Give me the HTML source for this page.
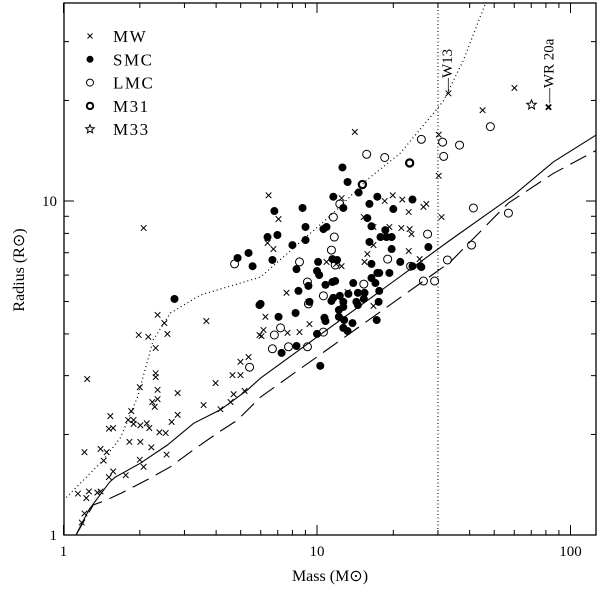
<!DOCTYPE html>
<html><head><meta charset="utf-8"><style>
body{margin:0;background:#fff}
svg text{font-family:"Liberation Serif",serif;fill:#000}
</style></head><body>
<svg id="chart" width="600" height="587" xmlns="http://www.w3.org/2000/svg"></svg>
<script>
const xTicksMajor=[1,10,100];
const yTicksMajor=[1,10];
const mwMass=[2.07,1.24,2.35,2.50,2.57,1.98,2.16,2.31,3.66,2.31,2.31,2.0,2.35,2.24,2.35,2.29,2.82,1.85,1.53,1.80,1.89,1.89,2.01,2.13,2.18,1.57,1.51,2.67,2.82,2.39,2.53,1.82,2.01,2.22,2.55,1.40,1.48,1.21,1.44,2.0,2.07,1.57,1.51,1.76,1.40,1.36,1.26,1.14,1.23,1.21,1.18,3.98,4.64,4.99,4.99,5.37,4.69,5.18,4.56,4.16,3.57,5.93,14.1,6.44,7.05,12.5,15.3,19.9,18.5,21.7,23.0,26.3,27.0,30.2,30.2,31.0,16.7,19.3,21.5,23.2,23.6,6.38,6.73,10.9,11.9,12.5,15.8,15.4,16.7,23.0,25.4,7.58,9.25,13.2,16.7,6.26,6.15,6.04,7.65,8.53,9.34,33.0,60.1,45.0];
const mwRadius=[8.3,2.93,4.56,4.31,4.0,3.97,3.92,3.63,4.37,3.05,2.97,2.77,2.72,2.50,2.55,2.42,2.66,2.35,2.27,2.21,2.21,2.15,2.13,2.16,2.09,2.09,2.08,2.18,2.29,2.03,2.02,1.90,1.90,1.83,1.74,1.81,1.77,1.77,1.67,1.68,1.60,1.55,1.49,1.51,1.35,1.34,1.35,1.33,1.29,1.16,1.09,2.85,3.01,3.01,3.30,3.41,2.64,2.70,2.50,2.38,2.45,3.97,16.1,10.4,8.83,10.2,8.95,10.4,10,10.1,9.27,9.6,9.8,15.8,11.9,8.95,8.36,8.36,8.3,8.24,7.96,7.49,7.18,6.57,6.48,6.38,6.94,6.57,7.38,7.08,6.70,5.31,4.99,5.34,4.85,4.50,4.11,3.94,4.03,4.05,4.28,21.0,21.8,18.7];
const smcMass=[4.86,5.37,5.57,2.74,5.93,12.6,13.2,14.6,11.6,12.7,16.1,17.3,20.0,23.8,6.79,8.77,9.01,9.01,6.98,6.38,8.0,10.9,10.6,6.67,8.30,10.1,10.0,10.2,11.5,12.0,10.8,11.5,11.8,13.9,15.8,16.4,18.6,19.7,18.8,17.8,16.1,19.7,16.4,17.3,17.6,19.3,21.3,23.8,25.6,27.5,16.4,17.0,17.6,8.45,9.25,9.34,5.99,8.23,7.05,11.4,11.6,12.3,13.3,14.5,15.4,12.7,12.2,12.7,12.2,14.3,15.3,14.5,17.5,10.7,10.8,12.8,13.8,12.7,13.2,10.0,17.2,8.30,7.25,10.3,25.8];
const smcRadius=[6.75,6.99,6.38,5.09,4.88,12.6,11.4,10.6,10.3,9.53,9.8,10.3,9.46,10.1,9.33,9.53,8.36,7.64,7.91,7.80,7.38,8.36,8.24,6.66,6.25,6.57,6.17,6.0,6.70,6.66,5.61,5.72,5.76,5.68,8.89,8.4,8.18,7.80,7.80,7.80,7.54,7.18,6.48,6.09,6.09,6.09,6.57,6.38,6.38,7.28,5.88,5.68,5.38,5.38,5.57,4.99,4.92,4.62,4.50,5.02,5.13,5.20,5.27,5.31,5.31,4.99,4.72,4.82,4.50,4.99,5.09,4.88,4.99,4.47,4.37,4.40,4.31,4.17,4.08,4.0,4.40,3.68,3.51,3.21,6.34];
const lmcMass=[4.73,5.42,25.8,31.3,31.6,15.7,18.5,12.3,11.6,11.7,11.4,8.53,11.8,27.3,19.0,23.4,26.3,29.1,32.7,9.17,15.3,10.6,9.25,7.18,6.79,10.6,6.67,7.72,9.17,36.5,48.3,41.4,56.9,40.7];
const lmcRadius=[6.48,3.18,15.3,15.0,13.6,13.8,13.5,9.8,8.95,7.80,7.13,6.57,6.43,7.96,6.70,6.38,5.76,5.76,6.66,5.72,5.64,5.20,4.92,4.17,3.97,4.05,3.61,3.66,3.66,14.7,16.7,9.53,9.2,7.38];
const m31Mass=[23.2,15.1];
const m31Radius=[13.0,11.2];
const m33Mass=[70.2];
const m33Radius=[19.4];
const wrMass=[81.9];
const wrRadius=[19.1];
const w13Mass=30;
const dottedMass=[1,1.44,1.68,1.96,2.26,2.64,3.47,5.99,11.6,15.8,21.3,28.8,31.6,37.8,46.2];
const dottedRadius=[1.27,1.68,1.96,2.59,3.84,4.62,5.23,5.92,9.2,11.6,13.9,18.3,20.0,26.4,39.1];
const solidMass=[1.12,1.26,1.52,1.60,2.01,2.57,3.26,4.16,5.32,5.99,33.6,59.6,85.7,127];
const solidRadius=[1.0,1.19,1.44,1.49,1.64,1.86,2.16,2.37,2.72,2.95,7.64,10.4,13.1,15.8];
const dashedMass=[1.12,1.31,1.47,1.71,2.16,2.64,3.26,4.05,4.86,5.99,33.6,56.9,85.7,127];
const dashedRadius=[1.0,1.23,1.27,1.34,1.47,1.60,1.80,2.02,2.21,2.59,6.57,9.86,12.1,14.2];

const L=64,R=596,T=3,B=535;
const X=m=>63.5+253.5*Math.log10(m);
const Y=r=>535-334*Math.log10(r);
const svg=document.getElementById('chart');
const NS='http://www.w3.org/2000/svg';
function mk(tag,attrs,parent){const e=document.createElementNS(NS,tag);for(const k in attrs)e.setAttribute(k,attrs[k]);(parent||svg).appendChild(e);return e;}

const clip=mk('clipPath',{id:'pc'});mk('rect',{x:L,y:T,width:R-L,height:B-T},clip);
const frame=mk('rect',{x:L,y:T,width:R-L,height:B-T,fill:'none',stroke:'#000','stroke-width':1.3});


// x ticks
const xt=mk('g',{stroke:'#000','stroke-width':1});

for(let d=1;d<=100;d*=10){for(let k=1;k<=9;k++){const v=d*k;const x=X(v);if(x>R)continue;const len=k===1?10:5;
mk('line',{x1:x,y1:B,x2:x,y2:B-len},xt);mk('line',{x1:x,y1:T,x2:x,y2:T+len},xt);}}
xTicksMajor.forEach(v=>{const t=mk('text',{x:X(v),y:556,'text-anchor':'middle','font-size':15});t.textContent=String(v);
});
// y ticks
const yt=mk('g',{stroke:'#000','stroke-width':1});

for(let d=1;d<=10;d*=10){for(let k=1;k<=9;k++){const v=d*k;const y=Y(v);if(y<T)continue;const len=k===1?10:5;
mk('line',{x1:L,y1:y,x2:L+len,y2:y},yt);mk('line',{x1:R,y1:y,x2:R-len,y2:y},yt);}}
yTicksMajor.forEach(v=>{const t=mk('text',{x:57,y:Y(v)+5,'text-anchor':'end','font-size':15});t.textContent=String(v);
});

const xl=mk('text',{x:330,y:581,'text-anchor':'middle','font-size':16});xl.textContent='Mass (M\u2299)';

const yl=mk('text',{x:0,y:0,'text-anchor':'middle','font-size':16,transform:'translate(24,270) rotate(-90)'});yl.textContent='Radius (R\u2299)';


const plot=mk('g',{'clip-path':'url(#pc)'});

function line(ms,rs,attrs,name){const d=ms.map((m,i)=>(i?'L':'M')+X(m).toFixed(1)+','+Y(rs[i]).toFixed(1)).join('');
const p=mk('path',Object.assign({d:d,fill:'none',stroke:'#000'},attrs),plot);
}
line(dottedMass,dottedRadius,{'stroke-width':1.2,'stroke-dasharray':'1,3'},'dotted-model-curve');
line(solidMass,solidRadius,{'stroke-width':1.1},'solid-model-curve');
line(dashedMass,dashedRadius,{'stroke-width':1.1,'stroke-dasharray':'18,8'},'dashed-model-curve');
const vl=mk('line',{x1:X(w13Mass),y1:T,x2:X(w13Mass),y2:B,stroke:'#000','stroke-width':1.1,'stroke-dasharray':'1,2.5'},plot);


function cross(x,y,s,w,g){mk('path',{d:`M${x-s},${y-s}L${x+s},${y+s}M${x-s},${y+s}L${x+s},${y-s}`,stroke:'#000','stroke-width':w},g);}
function star(x,y,r,g){let d='';for(let i=0;i<10;i++){const a=-Math.PI/2+i*Math.PI/5;const rr=i%2?r*0.45:r;d+=(i?'L':'M')+(x+rr*Math.cos(a)).toFixed(1)+','+(y+rr*Math.sin(a)).toFixed(1);}
mk('path',{d:d+'Z',fill:'none',stroke:'#000','stroke-width':1},g);}

const gMW=mk('g',{},plot);
mwMass.forEach((m,i)=>cross(X(m),Y(mwRadius[i]),2.8,1,gMW));
const gSMC=mk('g',{},plot);
smcMass.forEach((m,i)=>mk('circle',{cx:X(m),cy:Y(smcRadius[i]),r:4,fill:'#000'},gSMC));
const gLMC=mk('g',{},plot);
lmcMass.forEach((m,i)=>mk('circle',{cx:X(m),cy:Y(lmcRadius[i]),r:4,fill:'none',stroke:'#000','stroke-width':1},gLMC));
const gM31=mk('g',{},plot);
m31Mass.forEach((m,i)=>mk('circle',{cx:X(m),cy:Y(m31Radius[i]),r:3.6,fill:'none',stroke:'#000','stroke-width':2.2},gM31));
const gM33=mk('g',{},plot);
m33Mass.forEach((m,i)=>star(X(m),Y(m33Radius[i]),5,gM33));
const gWR=mk('g',{},plot);
wrMass.forEach((m,i)=>cross(X(m),Y(wrRadius[i]),2.6,1.8,gWR));

// annotations
const wrX=X(wrMass[0]),wrY=Y(wrRadius[0]);
const wrt=mk('text',{x:0,y:0,'font-size':15,transform:`translate(${wrX+5},${wrY-4}) rotate(-90)`});wrt.textContent='\u2014WR 20a';

const w13=mk('text',{x:0,y:0,'font-size':15,transform:`translate(${X(w13Mass)+14},${93}) rotate(-90)`});w13.textContent='\u2014W13';


// legend
const leg=mk('g',{});
const labels=['MW','SMC','LMC','M31','M33'];
labels.forEach((lab,i)=>{const y=36+i*23.3;const e=mk('g',{},leg);

if(i===0)cross(90,y,2.5,1,e);
if(i===1)mk('circle',{cx:90,cy:y,r:3.5,fill:'#000'},e);
if(i===2)mk('circle',{cx:90,cy:y,r:3.5,fill:'none',stroke:'#000'},e);
if(i===3)mk('circle',{cx:90,cy:y,r:3.2,fill:'none',stroke:'#000','stroke-width':2},e);
if(i===4)star(90,y,4.5,e);
const t=mk('text',{x:113,y:y+6,'font-size':17,'letter-spacing':'1.5'},e);t.textContent=lab;});
</script>
</body></html>
